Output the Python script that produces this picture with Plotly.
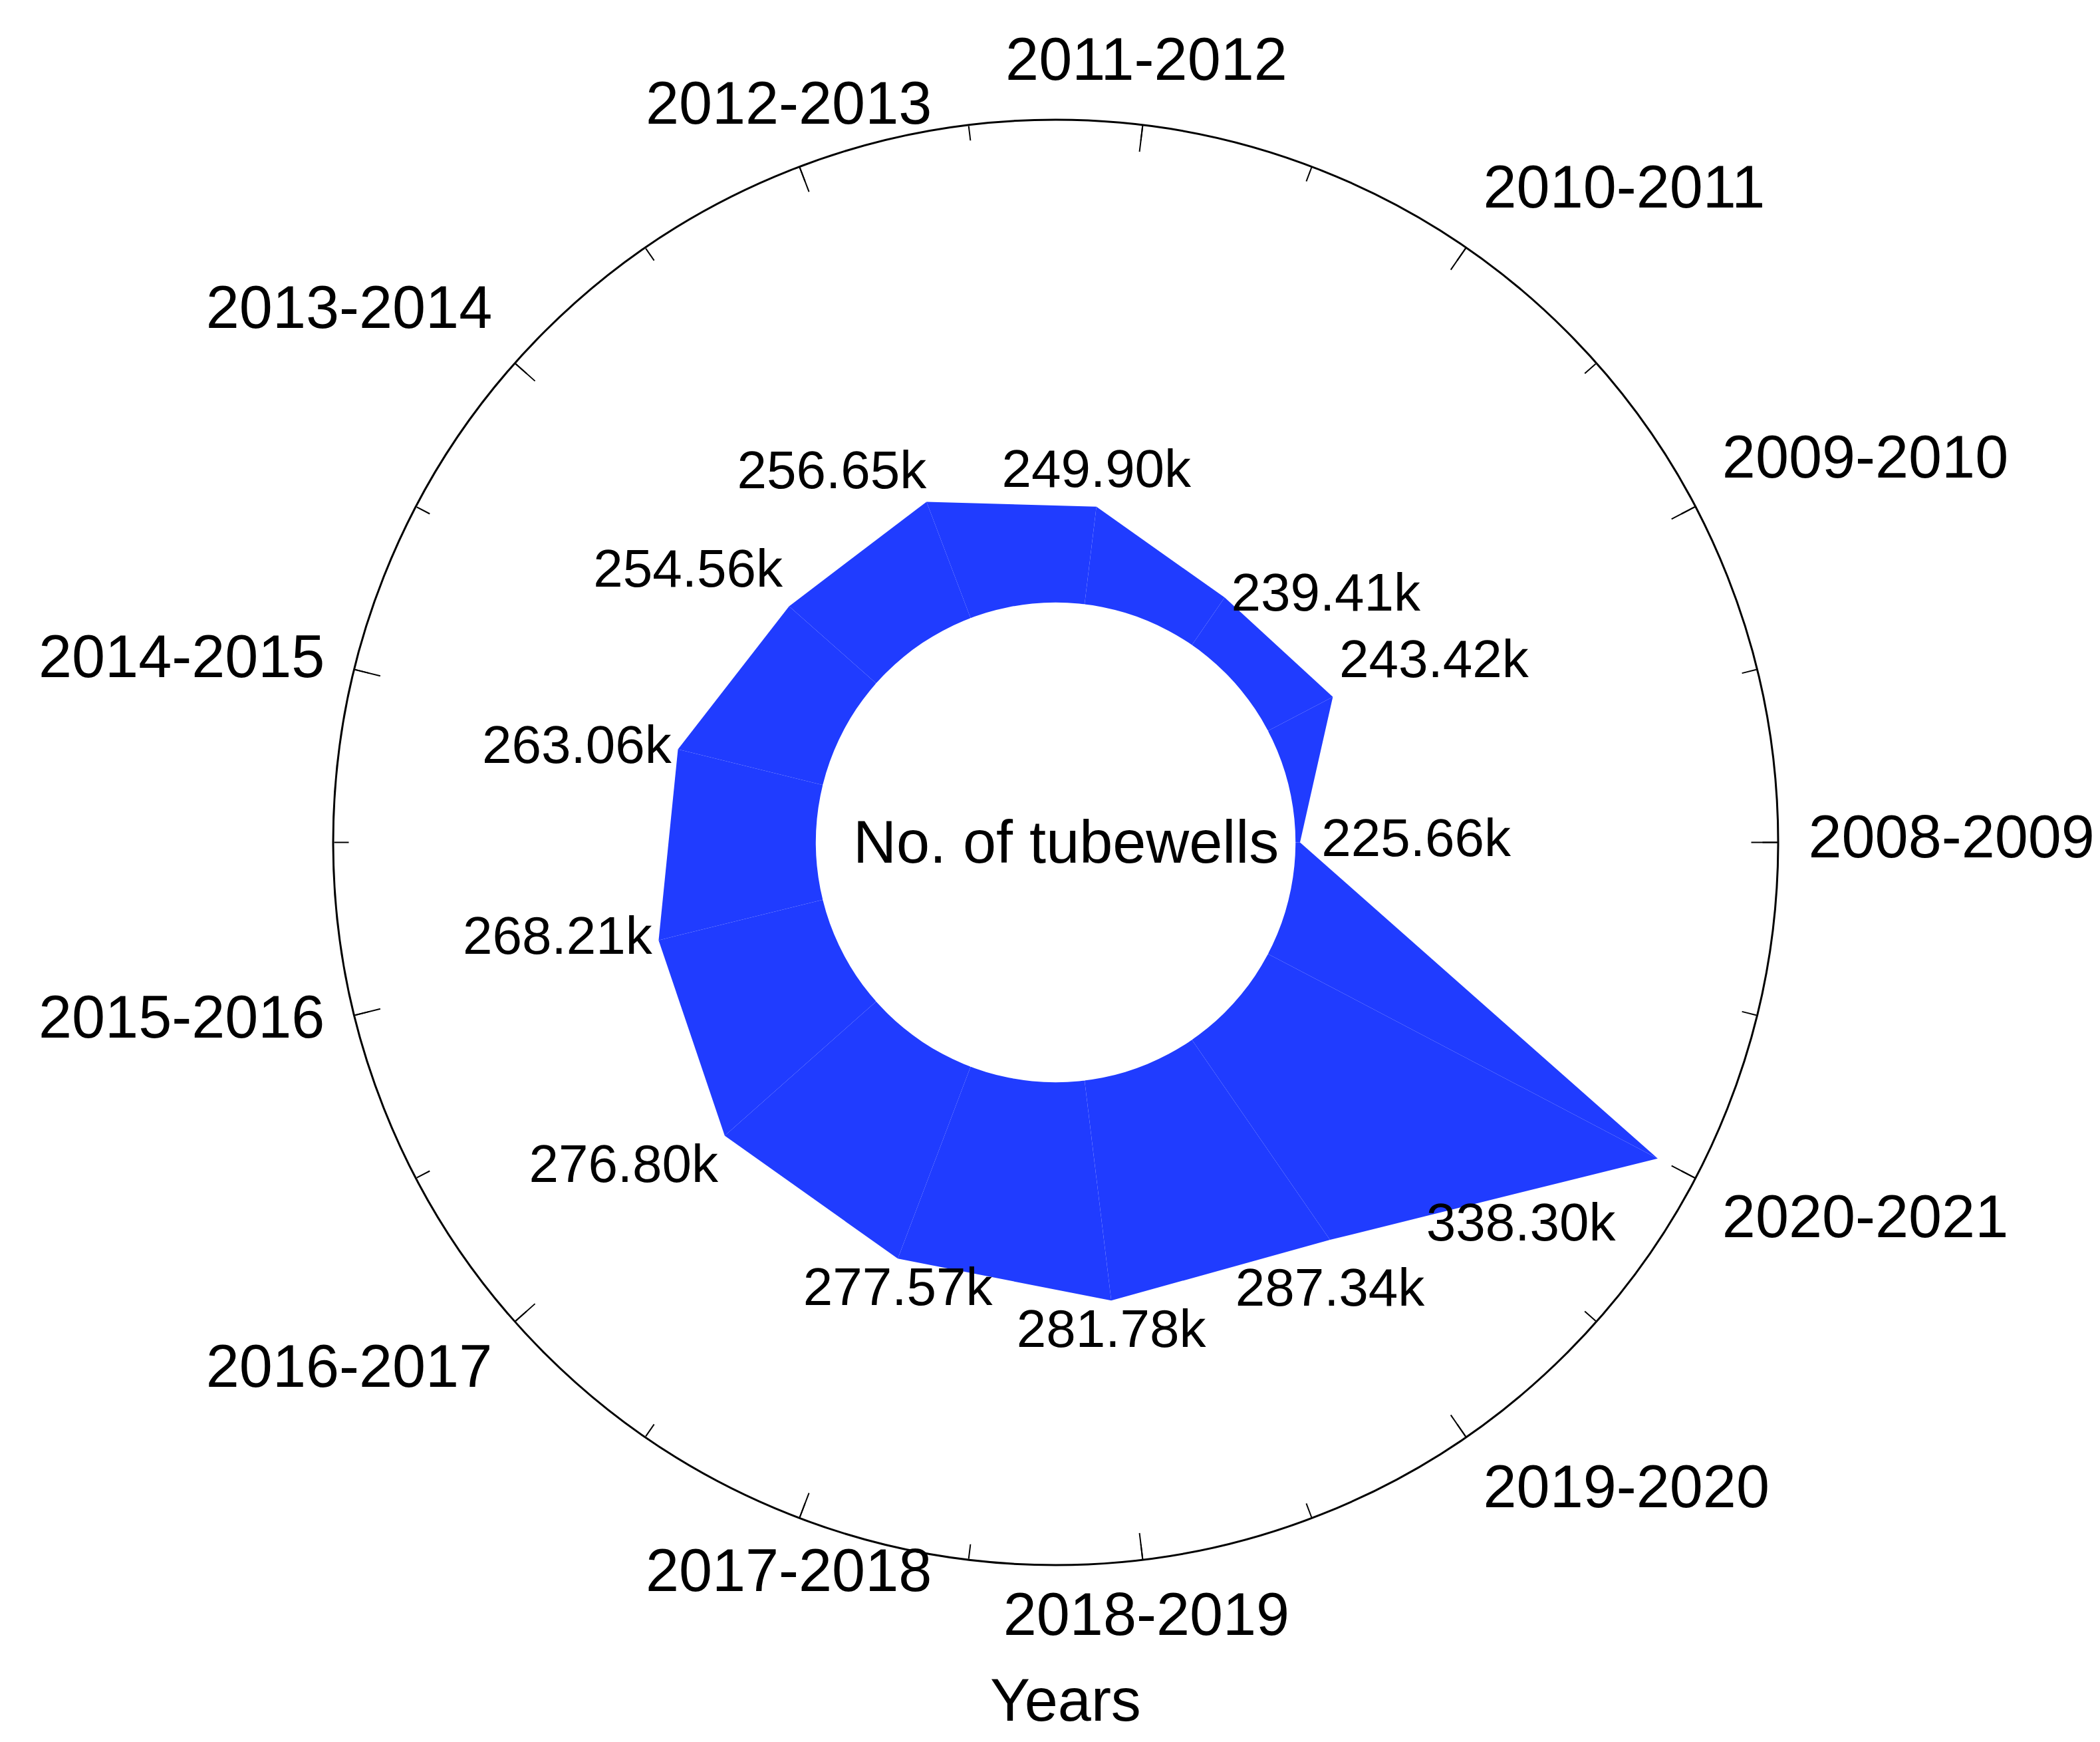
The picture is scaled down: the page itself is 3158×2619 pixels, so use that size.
import plotly.graph_objects as go

# ---- data ----
years = ["2008-2009", "2009-2010", "2010-2011", "2011-2012", "2012-2013",
         "2013-2014", "2014-2015", "2015-2016", "2016-2017", "2017-2018",
         "2018-2019", "2019-2020", "2020-2021"]
tubewells_k = [225.66, 243.42, 239.41, 249.90, 256.65, 254.56, 263.06,
               268.21, 276.80, 277.57, 281.78, 287.34, 338.30]
value_pos = ["middle right", "top right", "middle right", "top center", "top left",
             "top left", "middle left", "middle left", "bottom left", "bottom center",
             "bottom center", "bottom center", "bottom left"]
value_offset = [50, 14, 14, 14, 0, 14, 14, 14, 14, 14, 14, 60, 100]
year_pos = ["middle right", "top right", "top right", "top center", "top center",
            "top left", "middle left", "middle left", "bottom left", "bottom center",
            "bottom center", "bottom right", "bottom right"]

R_MIN, R_MAX = 224.5, 349.3
FILL = "#203CFF"
FONT = "Liberation Sans, Arial, sans-serif"

W, H = 3158, 2619
CX, CY, RAD = 1579.5, 1258.5, 1086.5   # polar centre / radius in px
LABEL_R = 1132                            # radius (px) of year-label anchors

fig = go.Figure()

n = len(years)
for i in range(n):
    j = (i + 1) % n
    fig.add_trace(go.Scatterpolar(
        r=[R_MIN, tubewells_k[i], tubewells_k[j], R_MIN, R_MIN],
        theta=[years[i], years[i], years[j], years[j], years[i]],
        mode="lines", fill="toself", fillcolor=FILL,
        line=dict(width=0, color=FILL), hoverinfo="skip", showlegend=False,
        subplot="polar"))

fig.add_trace(go.Scatterpolar(
    r=tubewells_k, theta=years, mode="markers+text",
    marker=dict(size=value_offset, color="rgba(0,0,0,0)", opacity=0,
                line=dict(width=0, color="rgba(0,0,0,0)")),
    text=[f"{v:.2f}k" for v in tubewells_k], textposition=value_pos,
    textfont=dict(size=80, color="black", family=FONT),
    cliponaxis=False, hoverinfo="skip", showlegend=False, subplot="polar"))

# outer circle + minor ticks
fig.add_trace(go.Scatterpolar(r=[1], theta=[0], mode="markers",
                              marker=dict(size=1, color="rgba(0,0,0,0)", opacity=0,
                                          line=dict(width=0)),
                              hoverinfo="skip", showlegend=False, subplot="polar2"))

# year labels around the circle
fig.add_trace(go.Scatterpolar(
    r=[LABEL_R] * n, theta=years, mode="text",
    text=years, textposition=year_pos,
    textfont=dict(size=90, color="black", family=FONT),
    cliponaxis=False, hoverinfo="skip", showlegend=False, subplot="polar3"))

dom_x = [(CX - RAD) / W, (CX + RAD) / W]
dom_y = [1 - (CY + RAD) / H, 1 - (CY - RAD) / H]
BIG = CY
dom3_x = [(CX - BIG) / W, (CX + BIG) / W]
dom3_y = [1 - (CY + BIG) / H, 1 - (CY - BIG) / H]

fig.update_layout(
    width=W, height=H,
    margin=dict(l=0, r=0, t=0, b=0),
    paper_bgcolor="white",
    font=dict(family=FONT, color="black"),
    showlegend=False,
    polar=dict(
        domain=dict(x=dom_x, y=dom_y),
        bgcolor="white",
        hole=0.332,
        angularaxis=dict(type="category", categoryarray=years, rotation=0,
                         direction="counterclockwise",
                         ticks="inside", ticklen=40, tickwidth=2, tickcolor="black",
                         showline=False, showgrid=False, showticklabels=False),
        radialaxis=dict(visible=False, range=[R_MIN, R_MAX], showgrid=False),
    ),
    polar2=dict(
        domain=dict(x=dom_x, y=dom_y),
        bgcolor="rgba(0,0,0,0)",
        angularaxis=dict(type="linear", thetaunit="degrees", rotation=0,
                         direction="counterclockwise",
                         tickmode="linear", tick0=0, dtick=360 / 26,
                         ticks="inside", ticklen=22, tickwidth=2, tickcolor="black",
                         showticklabels=False, showline=True, linecolor="black",
                         linewidth=3, showgrid=False),
        radialaxis=dict(visible=False, range=[0, 2], showgrid=False),
    ),
    polar3=dict(
        domain=dict(x=dom3_x, y=dom3_y),
        bgcolor="rgba(0,0,0,0)",
        angularaxis=dict(type="category", categoryarray=years, rotation=0,
                         direction="counterclockwise", visible=False,
                         showgrid=False, showline=False),
        radialaxis=dict(visible=False, range=[0, BIG], showgrid=False),
    ),
    annotations=[
        dict(text="No. of tubewells", x=1595 / W, y=1 - 1258 / H,
             xref="paper", yref="paper", showarrow=False,
             xanchor="center", yanchor="middle",
             font=dict(size=90, color="black", family=FONT)),
        dict(text="Years", x=1595 / W, y=1 - 2548 / H,
             xref="paper", yref="paper", showarrow=False,
             xanchor="center", yanchor="middle",
             font=dict(size=90, color="black", family=FONT)),
    ],
)

fig.write_html("out.html")
